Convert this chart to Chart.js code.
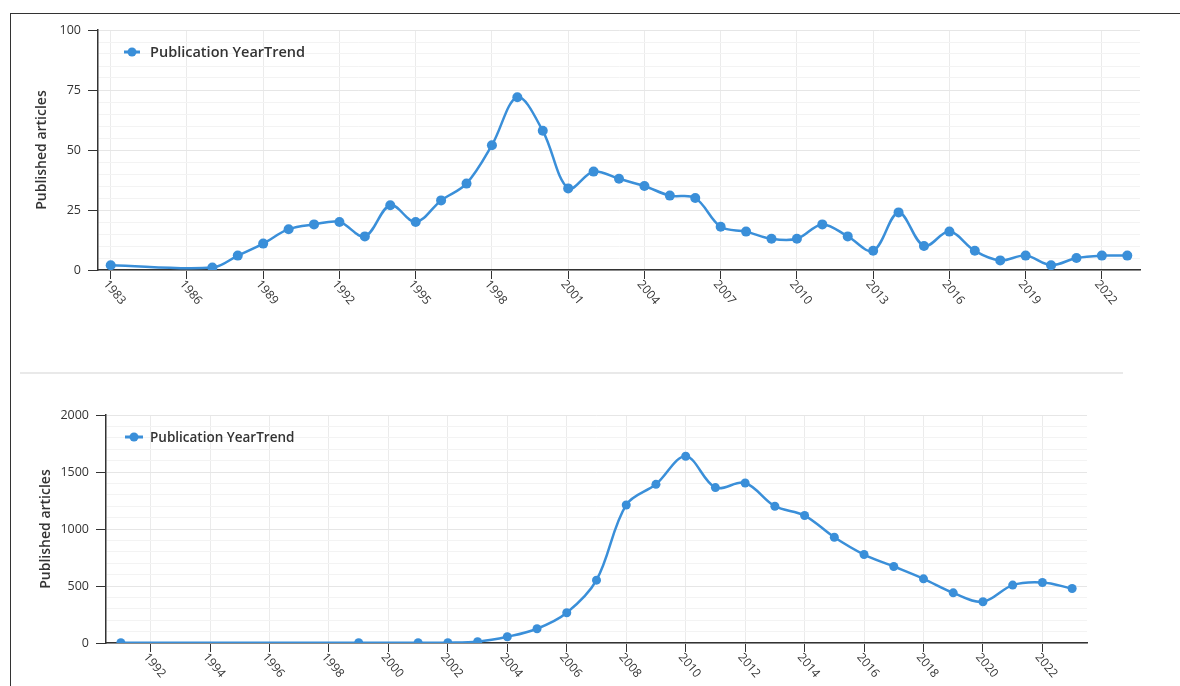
<!DOCTYPE html>
<html>
<head>
<meta charset="utf-8">
<title>Publication YearTrend</title>
<script src="https://cdn.jsdelivr.net/npm/chart.js@4.4.0/dist/chart.umd.min.js"></script>
<style>
    html, body { margin: 0; padding: 0; background: #fff; }
    body { width: 1180px; height: 686px; position: relative; overflow: hidden; }
    .frame-top { position: absolute; left: 10px; top: 13px; width: 1170px; border-top: 1px solid #333; }
    .frame-left { position: absolute; left: 10px; top: 13px; height: 673px; border-left: 1px solid #333; }
    .sep { position: absolute; left: 20px; top: 372px; width: 1103px; height: 2px; background: #e9e9e9; }
    canvas { position: absolute; left: 0; }
    #topChart { top: 0; }
    #bottomChart { top: 376px; }
</style>
</head>
<body>
<div class="frame-top"></div>
<div class="frame-left"></div>
<div class="sep"></div>
<canvas id="topChart" width="1180" height="372"></canvas>
<canvas id="bottomChart" width="1180" height="310"></canvas>
<script>
const seriesName = 'Publication YearTrend';
const axisTitle = 'Published articles';

// first chart
const topYears = [1983, 1987, 1988, 1989, 1990, 1991, 1992, 1993, 1994, 1995, 1996, 1997, 1998, 1999,
    2000, 2001, 2002, 2003, 2004, 2005, 2006, 2007, 2008, 2009, 2010, 2011, 2012, 2013, 2014, 2015,
    2016, 2017, 2018, 2019, 2020, 2021, 2022, 2023];
const topCounts = [2, 1, 6, 11, 17, 19, 20, 14, 27, 20, 29, 36, 52, 72,
    58, 34, 41, 38, 35, 31, 30, 18, 16, 13, 13, 19, 14, 8, 24, 10,
    16, 8, 4, 6, 2, 5, 6, 6];
const topYearTicks = [1983, 1986, 1989, 1992, 1995, 1998, 2001, 2004, 2007, 2010, 2013, 2016, 2019, 2022];
const topValueTicks = [0, 25, 50, 75, 100];

// second chart
const bottomYears = [1991, 1999, 2001, 2002, 2003, 2004, 2005, 2006, 2007, 2008, 2009, 2010, 2011,
    2012, 2013, 2014, 2015, 2016, 2017, 2018, 2019, 2020, 2021, 2022, 2023];
const bottomCounts = [3, 2, 2, 3, 12, 55, 125, 265, 551, 1211, 1392, 1638, 1363,
    1404, 1200, 1118, 928, 776, 671, 563, 440, 362, 508, 531, 478];
const bottomYearTicks = [1992, 1994, 1996, 1998, 2000, 2002, 2004, 2006, 2008, 2010, 2012, 2014, 2016, 2018, 2020, 2022];
const bottomValueTicks = [0, 500, 1000, 1500, 2000];

const lineColor = '#3a8fd9';
const textColor = '#333';
const fontFamily = "'Open Sans', sans-serif";

Chart.defaults.font.family = fontFamily;
Chart.defaults.color = textColor;

// year labels slanted down to the right, starting at the tick
const slantedYears = {
    id: 'slantedYears',
    afterDraw(chart, args, opts) {
        const xs = chart.scales.x;
        const ctx = chart.ctx;
        ctx.save();
        ctx.font = opts.size + 'px ' + fontFamily;
        ctx.fillStyle = textColor;
        ctx.textAlign = 'left';
        ctx.textBaseline = 'middle';
        opts.labels.forEach((year) => {
            ctx.save();
            ctx.translate(xs.getPixelForValue(year) - 5, xs.top + 12);
            ctx.rotate(Math.PI * 50 / 180);
            ctx.fillText(String(year), 0, 0);
            ctx.restore();
        });
        ctx.restore();
    }
};

// legend sits inside the plot, top left
const innerLegend = {
    id: 'innerLegend',
    afterDraw(chart, args, opts) {
        const ctx = chart.ctx;
        ctx.save();
        ctx.strokeStyle = lineColor;
        ctx.lineWidth = 3;
        ctx.beginPath();
        ctx.moveTo(opts.x - opts.half, opts.y);
        ctx.lineTo(opts.x + opts.half, opts.y);
        ctx.stroke();
        ctx.beginPath();
        ctx.arc(opts.x, opts.y, 4.5, 0, Math.PI * 2);
        ctx.fillStyle = lineColor;
        ctx.fill();
        ctx.font = '600 ' + opts.size + 'px ' + fontFamily;
        ctx.fillStyle = textColor;
        ctx.textBaseline = 'middle';
        ctx.fillText(seriesName, opts.textX, opts.y + 1);
        ctx.restore();
    }
};

function makeChart(id, o) {
    const points = o.years.map((year, i) => ({ x: year, y: o.counts[i] }));
    const isMajor = (v) => o.valueTicks.includes(v);
    return new Chart(document.getElementById(id), {
        type: 'line',
        data: {
            datasets: [{
                label: seriesName,
                data: points,
                borderColor: lineColor,
                borderWidth: 2.5,
                backgroundColor: lineColor,
                pointBackgroundColor: lineColor,
                pointBorderWidth: 0,
                pointRadius: o.pointRadius,
                tension: 0.35,
                fill: false
            }]
        },
        options: {
            responsive: false,
            animation: false,
            layout: { padding: o.padding },
            plugins: {
                legend: { display: false },
                tooltip: { enabled: false },
                slantedYears: { labels: o.yearTicks, size: 12 },
                innerLegend: o.legend
            },
            scales: {
                x: {
                    type: 'linear',
                    min: o.xMin,
                    max: o.xMax,
                    afterBuildTicks: (scale) => {
                        scale.ticks = o.yearTicks.map((v) => ({ value: v }));
                    },
                    afterFit: (scale) => { scale.height = o.xHeight; },
                    ticks: { display: false },
                    grid: { color: '#ebebeb', tickColor: '#333', tickLength: 9 },
                    border: { color: '#333', width: 1.5 }
                },
                y: {
                    min: 0,
                    max: o.yMax,
                    afterFit: (scale) => { scale.width = o.yWidth; },
                    ticks: {
                        stepSize: o.minorStep,
                        autoSkip: false,
                        padding: 7,
                        font: { size: 12.5 },
                        callback: (v) => (isMajor(v) ? v : '')
                    },
                    grid: {
                        color: (c) => (isMajor(c.tick.value) ? '#e6e6e6' : '#f3f3f3'),
                        tickColor: (c) => (isMajor(c.tick.value) ? '#333' : 'rgba(0,0,0,0)'),
                        tickLength: 10
                    },
                    border: { color: '#333', width: 1.5 },
                    title: {
                        display: true,
                        text: axisTitle,
                        font: { size: 14, weight: '600' },
                        padding: { top: o.titlePad, bottom: 0 }
                    }
                }
            }
        },
        plugins: [slantedYears, innerLegend]
    });
}

makeChart('topChart', {
    years: topYears,
    counts: topCounts,
    yearTicks: topYearTicks,
    valueTicks: topValueTicks,
    xMin: 1982.5,
    xMax: 2023.5,
    yMax: 100,
    minorStep: 5,
    pointRadius: 5,
    padding: { top: 30, right: 40, left: 0, bottom: 0 },
    xHeight: 102,
    yWidth: 98,
    titlePad: 34,
    legend: { x: 132, y: 52, half: 8, textX: 150, size: 14.5 }
});

makeChart('bottomChart', {
    years: bottomYears,
    counts: bottomCounts,
    yearTicks: bottomYearTicks,
    valueTicks: bottomValueTicks,
    xMin: 1990.5,
    xMax: 2023.5,
    yMax: 2000,
    minorStep: 100,
    pointRadius: 4.5,
    padding: { top: 39, right: 93, left: 0, bottom: 0 },
    xHeight: 43,
    yWidth: 106,
    titlePad: 38,
    legend: { x: 134, y: 61, half: 9, textX: 150, size: 13.5 }
});
</script>
</body>
</html>
